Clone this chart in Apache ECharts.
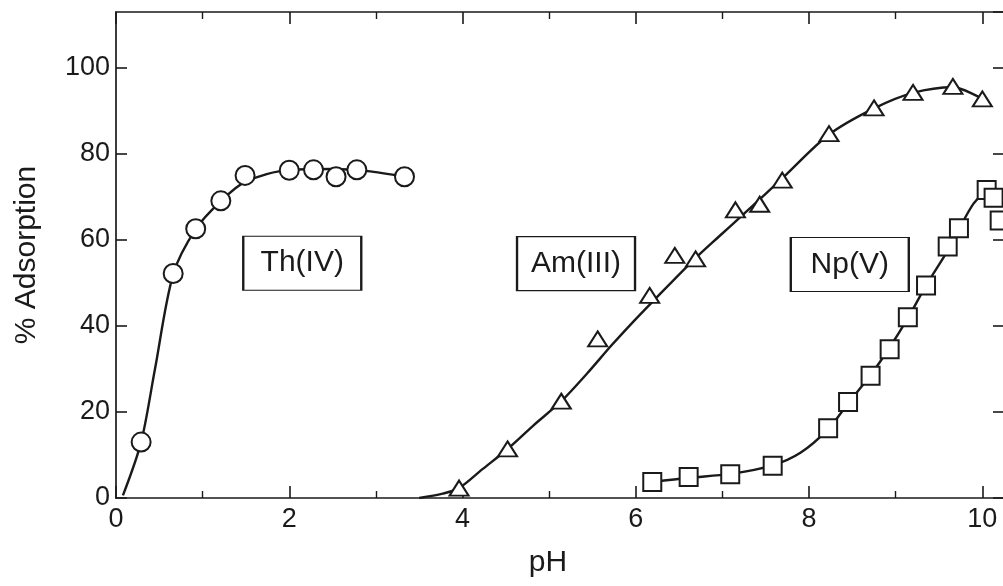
<!DOCTYPE html>
<html>
<head>
<meta charset="utf-8">
<script src="https://cdn.jsdelivr.net/npm/echarts@6/dist/echarts.min.js"></script>
<style>
  html, body { margin: 0; padding: 0; background: #fff; }
  #chart { width: 1003px; height: 586px; }
</style>
</head>
<body>
<div id="chart"></div>
<script>
// Measured sorption points (pH, % adsorbed) for each actinide
const thPH  = [0.29, 0.66, 0.92, 1.21, 1.49, 2.0, 2.28, 2.54, 2.78, 3.33];
const thAds = [13.0, 52.2, 62.6, 69.1, 75.0, 76.2, 76.3, 74.7, 76.3, 74.7];

const amPH  = [3.96, 4.52, 5.14, 5.56, 6.16, 6.45, 6.69, 7.15, 7.43, 7.69, 8.23, 8.75, 9.2, 9.66, 10.0];
const amAds = [2.3, 11.4, 22.5, 37.0, 47.1, 56.4, 55.6, 67.0, 68.3, 73.9, 84.7, 90.7, 94.3, 95.7, 92.8];

const npPH  = [6.19, 6.61, 7.09, 7.58, 8.22, 8.45, 8.71, 8.93, 9.14, 9.35, 9.6, 9.73, 10.05, 10.13, 10.2];
const npAds = [3.7, 4.9, 5.5, 7.5, 16.2, 22.3, 28.4, 34.6, 42.0, 49.4, 58.5, 62.7, 71.6, 69.8, 64.5];

// Fitted curves drawn through the data
const thCurvePH  = [0.08, 0.29, 0.45, 0.66, 0.92, 1.21, 1.49, 2.0, 2.5, 2.9, 3.33];
const thCurveAds = [0.6, 13.0, 30.0, 52.0, 62.5, 69.0, 73.5, 76.3, 76.5, 76.0, 74.7];

const amCurvePH  = [3.5, 3.77, 3.96, 4.23, 4.52, 4.82, 5.14, 5.44, 5.72, 5.98, 6.22, 6.66, 6.96, 7.2, 7.69, 8.23, 8.75, 9.2, 9.66, 10.0];
const amCurveAds = [0, 1.0, 2.3, 6.7, 11.4, 16.9, 22.5, 29.0, 35.5, 41.2, 46.2, 55.2, 60.8, 65.2, 74.3, 84.5, 90.6, 94.2, 95.5, 92.8];

const npCurvePH  = [6.19, 6.61, 7.09, 7.58, 7.9, 8.22, 8.45, 8.71, 8.93, 9.14, 9.35, 9.6, 9.73, 9.9, 10.05];
const npCurveAds = [3.7, 4.7, 5.6, 7.6, 10.5, 16.0, 22.0, 28.6, 35.0, 41.8, 49.4, 57.5, 62.5, 68.5, 71.6];

const speciesNames = ['Th(IV)', 'Am(III)', 'Np(V)'];
const xTicks = [0, 2, 4, 6, 8, 10];
const yTicks = [0, 20, 40, 60, 80, 100];

const INK = '#1a1a1a';
const FONT = 'Liberation Sans, Arial, Helvetica, sans-serif';

const zip = (xs, ys) => xs.map((x, i) => [x, ys[i]]);

function curve(name, xs, ys) {
  return {
    name: name, type: 'line', data: zip(xs, ys),
    symbol: 'none', smooth: 0.3, z: 2,
    lineStyle: { color: INK, width: 2.4 }
  };
}
function points(name, xs, ys, symbol, size) {
  return {
    name: name, type: 'scatter', data: zip(xs, ys),
    symbol: symbol, symbolSize: size, z: 4,
    itemStyle: { color: '#fff', borderColor: INK, borderWidth: 2, opacity: 1 }
  };
}

// Where each species tag box sits, in axis units
const tagAt = [[2.15, 54.6], [5.31, 54.5], [8.47, 54.3]];

const xBase = {
  type: 'value', min: 0, max: 10.25, interval: xTicks[1] - xTicks[0],
  splitLine: { show: false },
  axisLine: { show: true, onZero: false, lineStyle: { color: INK, width: 1.7 } },
  axisTick: { show: true, inside: true, length: 12, lineStyle: { color: INK, width: 1.6 } },
  minorTick: { show: true, splitNumber: 2, length: 7, lineStyle: { color: INK, width: 1.4 } }
};
const yBase = {
  type: 'value', min: 0, max: 113, interval: yTicks[1] - yTicks[0],
  splitLine: { show: false },
  axisLine: { show: true, onZero: false, lineStyle: { color: INK, width: 1.7 } },
  axisTick: { show: true, inside: true, length: 11, lineStyle: { color: INK, width: 1.6 } }
};

const chart = echarts.init(document.getElementById('chart'), null, { renderer: 'canvas' });
chart.setOption({
  animation: false,
  backgroundColor: '#fff',
  grid: { left: 116, right: -1, top: 12, bottom: 88, outerBoundsMode: 'none', containLabel: false },
  xAxis: [
    Object.assign({}, xBase, {
      position: 'bottom',
      name: 'pH', nameLocation: 'middle', nameGap: 50,
      nameTextStyle: { fontSize: 30, color: INK, fontFamily: FONT, padding: [0, 24, 0, 0] },
      axisLabel: { show: true, fontSize: 27, color: INK, fontFamily: FONT, margin: 8, showMaxLabel: false,
        formatter: v => (xTicks.indexOf(v) >= 0 ? String(v) : '') }
    }),
    Object.assign({}, xBase, { position: 'top', axisLabel: { show: false } })
  ],
  yAxis: [
    Object.assign({}, yBase, {
      position: 'left',
      name: '% Adsorption', nameLocation: 'middle', nameGap: 74,
      nameTextStyle: { fontSize: 30, color: INK, fontFamily: FONT },
      axisLabel: { show: true, fontSize: 27, color: INK, fontFamily: FONT, margin: 6, showMaxLabel: false,
        formatter: v => (yTicks.indexOf(v) >= 0 ? String(v) : '') }
    }),
    Object.assign({}, yBase, { position: 'right', axisLabel: { show: false } })
  ],
  series: [
    curve('Th fit', thCurvePH, thCurveAds),
    curve('Am fit', amCurvePH, amCurveAds),
    curve('Np fit', npCurvePH, npCurveAds),
    points('Th(IV)', thPH, thAds, 'circle', 19),
    points('Am(III)', amPH, amAds, 'triangle', [19, 15]),
    points('Np(V)', npPH, npAds, 'rect', 18),
    {
      name: 'tags', type: 'scatter', z: 5, silent: true,
      symbol: 'rect', symbolSize: [118, 54],
      itemStyle: { color: '#fff', borderColor: INK, borderWidth: 1.6, opacity: 1 },
      label: { show: true, position: 'inside', formatter: p => p.name,
        fontSize: 30, color: INK, fontFamily: FONT },
      data: speciesNames.map((n, i) => ({ name: n, value: tagAt[i] }))
    }
  ]
});
</script>
</body>
</html>
